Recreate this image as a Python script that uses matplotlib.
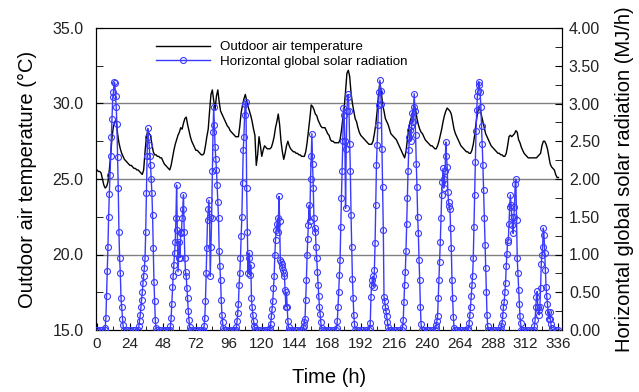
import numpy as np
import matplotlib
matplotlib.use("Agg")
import matplotlib.pyplot as plt
from matplotlib.ticker import MultipleLocator, FormatStrFormatter
from matplotlib.lines import Line2D

plt.rcParams['font.family'] = ['Liberation Sans', 'DejaVu Sans']

# Hourly outdoor air temperature (deg C), hours 0..336
temp_c = [
    25.6, 25.5, 25.5, 25.4, 25.0, 24.6, 24.4, 24.5, 24.8, 25.6, 26.6, 27.8,
    28.5, 28.8, 28.9, 28.0, 27.4, 27.0, 26.7, 26.5, 26.3, 26.2, 26.1, 26.0,
    25.9, 25.9, 25.8, 25.7, 25.7, 25.6, 25.6, 25.5, 25.4, 25.3, 25.6, 26.8,
    27.8, 28.2, 28.0, 27.9, 27.3, 26.8, 26.6, 26.6, 26.5, 26.5, 26.4, 26.4,
    26.2, 26.0, 25.9, 25.8, 25.7, 25.6, 25.9, 26.4, 26.9, 27.3, 27.6, 27.9,
    28.1, 28.4, 28.3, 28.7, 29.0, 29.1, 28.6, 28.2, 27.8, 27.5, 27.3, 27.1,
    26.9, 26.9, 26.8, 26.7, 26.6, 26.6, 26.7, 27.2, 27.8, 28.3, 29.5, 30.6,
    30.9, 30.2, 29.6, 30.5, 30.9, 30.1, 29.5, 29.3, 29.1, 28.9, 28.7, 28.5,
    28.4, 28.2, 28.1, 28.0, 27.9, 27.8, 27.8, 27.8, 28.5, 29.4, 29.9, 30.3,
    30.6, 30.2, 29.8, 29.5, 29.2, 28.8, 28.3, 27.9, 25.9, 26.6, 27.8, 27.2,
    26.5, 26.9, 27.2, 27.1, 27.0, 27.0, 27.0, 27.1, 27.4, 27.8, 28.4, 28.8,
    29.3, 28.6, 27.5, 26.8, 26.3, 26.7, 27.2, 27.5, 27.2, 27.0, 26.9, 26.8,
    26.8, 26.7, 26.7, 26.6, 26.6, 26.5, 26.5, 26.5, 26.8, 27.4, 28.2, 29.0,
    29.9, 29.8, 29.6, 29.3, 29.2, 28.9, 28.7, 28.5, 28.4, 28.4, 28.4, 28.2,
    28.0, 27.9, 27.6, 27.5, 27.5, 27.4, 27.4, 27.4, 27.4, 27.6, 28.2, 29.0,
    29.7, 30.8, 32.0, 32.2, 31.8, 30.7, 30.0, 29.5, 29.0, 28.8, 28.4, 28.1,
    27.9, 27.8, 27.7, 27.6, 27.5, 27.4, 27.3, 27.3, 27.3, 27.5, 28.0, 28.6,
    29.5, 30.6, 31.4, 30.8, 29.9, 29.5, 29.0, 28.8, 28.6, 28.3, 28.0, 27.9,
    27.8, 27.7, 27.6, 27.4, 27.2, 27.0, 26.8, 26.6, 26.4, 26.8, 27.6, 28.3,
    28.8, 29.1, 29.5, 29.9, 29.6, 29.0, 28.6, 28.3, 28.1, 28.0, 27.8, 27.6,
    27.5, 27.4, 27.3, 27.2, 27.2, 27.1, 27.0, 27.0, 27.2, 27.5, 27.9, 28.3,
    28.8, 29.2, 29.5, 29.7, 29.6, 29.5, 29.3, 28.8, 28.3, 28.0, 27.8, 27.6,
    27.4, 27.2, 27.1, 27.0, 26.9, 26.8, 26.8, 26.7, 26.7, 26.9, 27.3, 27.9,
    28.7, 29.3, 29.8, 29.6, 29.2, 28.8, 28.4, 28.0, 27.8, 27.6, 27.4, 27.2,
    27.1, 27.0, 26.9, 26.8, 26.7, 26.7, 26.6, 26.6, 26.5, 26.5, 26.7, 27.2,
    27.8, 27.9, 27.8, 27.9, 28.0, 28.2, 28.1, 27.6, 27.4, 27.1, 26.9, 26.7,
    26.6, 26.5, 26.4, 26.4, 26.4, 26.4, 26.4, 26.4, 26.4, 26.5, 26.6, 26.7,
    27.2, 27.5, 27.5, 27.3, 27.0, 26.5, 26.0, 25.8, 25.7, 25.6, 25.3, 25.1,
    25.1,
]

# Horizontal global solar radiation (MJ/h): half-hourly daytime values,
# each day starting at the local hour given in rad_start
rad_start = [5.5, 6.0, 5.0, 5.5, 5.0, 5.5, 5.5, 6.0, 6.0, 6.0, 6.0, 6.0, 6.0, 6.0]
rad_d00 = [0, 0.03, 0.16, 0.45, 0.78, 1.10, 1.50, 1.80, 2.05, 2.30, 2.56, 2.80,
           3.08, 3.15, 3.28, 3.27, 3.10, 2.96, 2.73, 2.29, 1.88, 1.30, 0.95, 0.75,
           0.43, 0.30, 0.15, 0.06, 0]
rad_d01 = [0, 0.05, 0.12, 0.20, 0.30, 0.40, 0.50, 0.62, 0.72, 0.82, 0.95,
           1.30, 1.81, 2.30, 2.67, 2.55, 2.45, 2.30, 2.19, 2.00, 1.81, 1.52, 1.08,
           0.64, 0.38, 0.13, 0.03, 0]
rad_d02 = [0, 0.05, 0.16, 0.35, 0.57, 0.72, 0.86, 1.02, 1.17, 1.48, 1.92, 1.33, 0.77,
           0.96, 1.17, 0.96, 1.30, 1.28, 1.48, 1.60, 1.79, 1.30, 0.95, 0.77, 0.71,
           0.55, 0.42, 0.25, 0.13, 0.04, 0]
rad_d03 = [0, 0.05, 0.16, 0.38, 0.75, 1.08, 1.46, 1.60, 1.72, 1.50, 0.71, 1.10,
           1.49, 2.10, 2.62, 2.96, 2.71, 2.43, 2.27, 2.12, 1.92, 1.70, 1.48, 1.04,
           0.85, 0.66, 0.40, 0.20, 0.10, 0.02, 0]
rad_d04 = [0, 0.04, 0.12, 0.22, 0.35, 0.60, 0.75, 0.95, 1.25, 1.50, 1.95, 2.38, 2.56,
           2.85, 3.00, 3.02, 1.88, 1.30, 0.75, 0.95, 1.02, 0.73, 0.86, 0.42, 0.30,
           0.20, 0.12, 0.05, 0.02, 0]
rad_d05 = [0, 0.02, 0.08, 0.18, 0.28, 0.38, 0.55, 0.71, 0.99, 1.19, 1.33, 1.41,
           1.48, 1.30, 1.77, 1.45, 0.93, 0.90, 0.88, 0.84, 0.80, 0.75, 0.71, 0.53,
           0.31, 0.50, 0.30, 0.12, 0.04, 0]
rad_d06 = [0, 0.02, 0.05, 0.10, 0.15, 0.40, 0.66, 0.99, 1.20, 1.39, 1.65, 1.45,
           2.00, 2.30, 2.60, 2.20, 1.88, 1.48, 1.30, 1.35, 1.10, 0.95, 0.77, 0.60,
           0.45, 0.30, 0.21, 0.10, 0.03, 0]
rad_d07 = [0, 0.03, 0.12, 0.31, 0.50, 0.73, 0.93, 1.37, 1.75, 2.10, 2.50,
           2.94, 2.85, 2.50, 1.61, 2.40, 2.90, 3.09, 3.12, 2.90, 2.47, 2.10, 1.52,
           1.10, 0.68, 0.43, 0.20, 0.08, 0]
rad_d08 = [0, 0.03, 0.09, 0.44, 0.60, 0.66, 0.71, 0.57, 0.80, 1.15, 1.66,
           2.19, 2.45, 2.72, 2.98, 3.15, 3.31, 3.16, 3.00, 2.40, 1.90, 1.32, 0.44,
           0.38, 0.31, 0.25, 0.18, 0.10, 0.04, 0]
rad_d09 = [0, 0.04, 0.13, 0.37, 0.60, 0.77, 1.04, 1.40, 1.75, 2.10, 2.38,
           2.55, 2.65, 2.50, 2.70, 2.87, 2.75, 2.95, 3.13, 2.90, 2.58, 2.20, 1.90,
           1.50, 1.28, 0.93, 0.66, 0.30, 0.08, 0]
rad_d10 = [0, 0.02, 0.06, 0.12, 0.18, 0.42, 0.66, 0.90, 1.17, 1.48, 1.79,
           1.96, 2.14, 1.88, 2.00, 2.10, 2.49, 2.30, 2.16, 1.83, 1.70, 1.64, 1.60,
           1.35, 1.08, 0.66, 0.43, 0.17, 0.03, 0]
rad_d11 = [0, 0.02, 0.09, 0.20, 0.31, 0.45, 0.60, 0.71, 0.95, 1.37, 1.79,
           2.23, 2.63, 2.91, 3.10, 3.16, 3.29, 3.25, 3.15, 2.96, 2.70, 2.47, 2.19,
           1.85, 1.48, 1.13, 0.82, 0.50, 0.20, 0.05, 0]
rad_d12 = [0, 0.05, 0.09, 0.20, 0.31, 0.37, 0.50, 0.62, 0.85, 1.01, 1.17,
           1.19, 1.41, 1.63, 1.79, 1.65, 1.50, 1.39, 1.28, 1.50, 1.63, 1.94, 2.00,
           1.46, 0.95, 0.75, 0.53, 0.35, 0.18, 0.09, 0]
rad_d13 = [0, 0.05, 0.13, 0.30, 0.44, 0.51, 0.30, 0.26, 0.20, 0.31, 0.55,
           0.88, 0.99, 1.10, 1.35, 1.26, 1.02, 0.80, 0.57, 0.45, 0.35, 0.24, 0.15,
           0.24, 0.15, 0.08, 0.02, 0]

rad_days = [rad_d00, rad_d01, rad_d02, rad_d03, rad_d04, rad_d05, rad_d06,
            rad_d07, rad_d08, rad_d09, rad_d10, rad_d11, rad_d12, rad_d13]

x_ticks = [0, 24, 48, 72, 96, 120, 144, 168, 192, 216, 240, 264, 288, 312, 336]

# ---- build series ----
hours = np.arange(len(temp_c))
day_t, day_v, windows = [], [], []
for d, (start, vals) in enumerate(zip(rad_start, rad_days)):
    t = 24 * d + start + 0.5 * np.arange(len(vals))
    day_t.extend(t); day_v.extend(vals)
    windows.append((t[0], t[-1]))
night_t = [h for h in range(0, 337, 2)
           if not any(a - 0.75 <= h <= b + 0.75 for a, b in windows)]
rad_t = np.array(day_t + night_t, dtype=float)
rad_v = np.array(day_v + [0.0] * len(night_t), dtype=float)
order = np.argsort(rad_t, kind='stable')
rad_t, rad_v = rad_t[order], rad_v[order]

fig = plt.figure(figsize=(6.39, 3.92), dpi=100)
ax = fig.add_axes([96 / 639, 1 - 330 / 392, 466 / 639, 302 / 392])
ax2 = ax.twinx()

blue = '#3a3aff'
ax.plot(hours, temp_c, color='black', lw=1.0, zorder=3)
ax2.plot(rad_t, rad_v, color=blue, lw=1.0, marker='o', ms=4.3, mfc='none',
         mec=blue, mew=0.8, zorder=3)

ax.set_xlim(-0.7, 338.6)
ax.set_ylim(15, 35)
ax2.set_ylim(0, 4)

for y in (20, 25, 30):
    ax.axhline(y, color='#808080', lw=1.0, zorder=1)

ax.set_xticks(x_ticks)
ax.xaxis.set_minor_locator(MultipleLocator(12))
ax.yaxis.set_major_locator(MultipleLocator(5))
ax.yaxis.set_minor_locator(MultipleLocator(2.5))
ax.yaxis.set_major_formatter(FormatStrFormatter('%.1f'))
ax2.yaxis.set_major_locator(MultipleLocator(0.5))
ax2.yaxis.set_minor_locator(MultipleLocator(0.25))
ax2.yaxis.set_major_formatter(FormatStrFormatter('%.2f'))

ax.tick_params(axis='x', which='both', direction='in', labelsize=11, pad=5,
               labelcolor='#222222')
ax.tick_params(axis='x', which='major', length=5)
ax.tick_params(axis='x', which='minor', length=3)
ax.tick_params(axis='y', which='both', direction='in', labelsize=11.5, pad=9,
               labelcolor='#222222', length=5)
ax2.tick_params(axis='y', which='both', direction='in', labelsize=11.5, pad=5,
                labelcolor='#222222', length=5)

ax.set_xlabel('Time (h)', fontsize=14.5, labelpad=12)
ax.set_ylabel('Outdoor air temperature (\u00b0C)', fontsize=14.5, labelpad=11)
ax2.set_ylabel('Horizontal global solar radiation (MJ/h)', fontsize=14.5, labelpad=11)

handles = [Line2D([], [], color='black', lw=1.0),
           Line2D([], [], color=blue, lw=1.0, marker='o', ms=4.3, mfc='none', mew=0.8)]
ax2.legend(handles, ['Outdoor air temperature', 'Horizontal global solar radiation'],
           loc='upper left', bbox_to_anchor=(0.118, 0.975), frameon=False,
           fontsize=9.6, handlelength=4.0, handletextpad=0.8, labelspacing=0.15,
           borderaxespad=0.0)

fig.savefig('out.png', dpi=100)
